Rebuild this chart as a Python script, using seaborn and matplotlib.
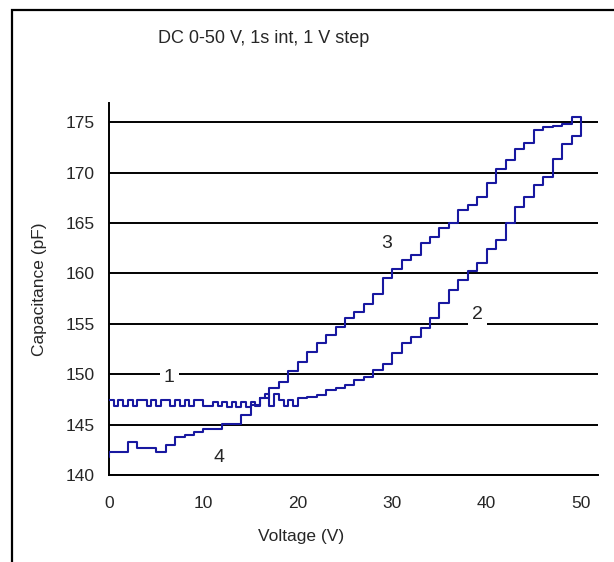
import numpy as np
import pandas as pd
import matplotlib
matplotlib.use("Agg")
import matplotlib.pyplot as plt
import seaborn as sns
from matplotlib.patches import Rectangle

# up sweep: two readings per volt below 20 V, one per volt above
voltage_up = [v / 2 for v in range(0, 40)] + list(range(20, 51))
cap_up = [147.4, 146.8, 147.4, 146.8, 147.4, 146.8, 147.4, 147.4, 146.8, 147.4,
          146.8, 147.4, 147.4, 146.8, 147.4, 146.8, 147.4, 146.8, 147.4, 147.4,
          146.8, 146.8, 147.2, 146.8, 147.2, 146.7, 147.2, 146.7, 147.2, 146.7,
          147.2, 146.8, 147.6, 148.0, 146.8, 148.0, 147.4, 146.8, 147.4, 146.8,
          147.6, 147.7, 147.9, 148.4, 148.6, 148.9, 149.4, 149.7, 150.4, 151.0,
          152.1, 153.1, 153.7, 154.6, 155.6, 157.1, 158.4, 159.3, 160.2, 161.0,
          162.4, 163.3, 165.0, 166.6, 167.6, 168.8, 169.6, 171.3, 172.8, 173.6,
          174.0]

# down sweep, 1 V steps
voltage_down = list(range(50, -1, -1))
cap_down = [175.5, 174.8, 174.6, 174.5, 174.2, 172.9, 172.3, 171.2, 170.4, 169.0,
            167.6, 166.8, 166.3, 165.0, 164.5, 163.6, 163.0, 161.8, 161.3, 160.4,
            159.5, 158.0, 157.0, 156.2, 155.6, 154.7, 153.9, 153.1, 152.2, 151.2,
            150.3, 149.2, 148.6, 147.6, 146.9, 146.0, 145.1, 145.1, 144.6, 144.6,
            144.3, 144.0, 143.8, 143.0, 142.3, 142.7, 142.7, 143.3, 142.3, 142.3,
            141.8]

# segment labels
seg_text = ["1", "2", "3", "4"]
seg_x = [6.4, 39.0, 29.4, 11.6]
seg_y = [149.7, 155.9, 163.0, 141.7]

df = pd.DataFrame({
    "Voltage": voltage_up + voltage_down,
    "Capacitance": cap_up + cap_down,
})

sns.set_style("white")
plt.rcParams["font.family"] = ["Liberation Sans", "DejaVu Sans"]

fig = plt.figure(figsize=(6.14, 5.62), dpi=100)
ax = fig.add_axes([0.1775, 0.1548, 0.7965, 0.6619])

line_color = "#1818a0"
sns.lineplot(data=df, x="Voltage", y="Capacitance", sort=False, estimator=None,
             drawstyle="steps-post", color=line_color, linewidth=1.5, ax=ax, zorder=3)

ax.set_xlim(0, 51.8)
ax.set_ylim(140, 176.9)
ax.set_xticks(range(0, 51, 10))
ax.set_yticks(range(140, 176, 5))
ax.yaxis.grid(True, color="black", linewidth=1.4)
ax.xaxis.grid(False)
ax.set_axisbelow(True)

for side in ["top", "right"]:
    ax.spines[side].set_visible(False)
for side in ["left", "bottom"]:
    ax.spines[side].set_color("black")
    ax.spines[side].set_linewidth(1.4)

ax.tick_params(axis="both", direction="out", length=5, width=1.4, color="black",
               labelsize=12.5)
ax.tick_params(axis="x", pad=10)
ax.tick_params(axis="y", pad=5)
ax.set_xlabel("")
ax.set_ylabel("")

for t, x, y in zip(seg_text, seg_x, seg_y):
    ax.text(x, y, t, fontsize=14, ha="center", va="center", zorder=4,
            bbox=dict(facecolor="white", edgecolor="none", pad=3))

fig.text(0.43, 0.9315, "DC 0-50 V, 1s int, 1 V step", ha="center", va="center",
         fontsize=13)
fig.text(0.49, 0.0445, "Voltage (V)", ha="center", va="center", fontsize=12.5)
fig.text(0.065, 0.486, "Capacitance (pF)", ha="center", va="center",
         rotation=90, fontsize=12.5)

# chart frame
fig.add_artist(Rectangle((12 / 614, -0.2), 1.2, 1.2 - 10 / 562,
                         transform=fig.transFigure, fill=False,
                         edgecolor="black", linewidth=1.6))

fig.savefig("out.png", dpi=100)
